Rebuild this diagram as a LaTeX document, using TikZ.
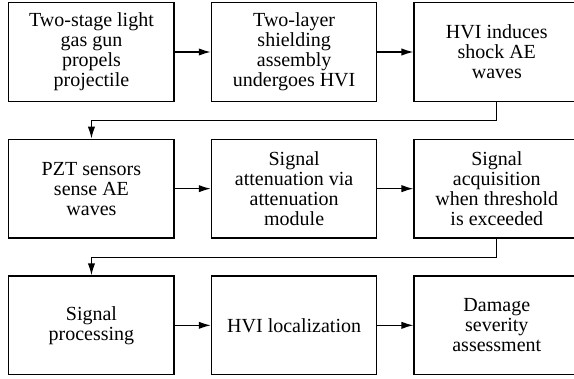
\documentclass[tikz,border=0pt]{standalone}
\usepackage{fontspec}
\setmainfont{Liberation Serif}
\usepackage{tikz}
\usetikzlibrary{positioning, arrows.meta, calc}

\begin{document}
\begin{tikzpicture}[
    stepbox/.style={rectangle, draw, line width=1pt, minimum width=124pt, minimum height=74pt,
                    align=center, inner sep=2pt, font=\fontsize{15}{15}\selectfont},
    arrow/.style={-{Latex[length=9pt, width=5.5pt]}, line width=1pt},
    node distance=27.5pt and 27pt
  ]
  \useasboundingbox (0,0) rectangle (430.5pt,-283.5pt);
  \clip (0,0) rectangle (430.5pt,-283.5pt);
  % row 1
  \node[stepbox] (gun) at (68.6pt,-39pt) {Two-stage light\\gas gun\\propels\\projectile};
  \node[stepbox, right=of gun] (shield) {Two-layer\\shielding\\assembly\\undergoes HVI};
  \node[stepbox, right=of shield] (hvi) {HVI induces\\shock AE\\waves};
  % row 2
  \node[stepbox, below=of gun] (pzt) {PZT sensors\\sense AE\\waves};
  \node[stepbox, right=of pzt] (atten) {Signal\\attenuation via\\attenuation\\module};
  \node[stepbox, right=of atten] (acq) {Signal\\acquisition\\when threshold\\is exceeded};
  % row 3
  \node[stepbox, below=of pzt] (proc) {Signal\\processing};
  \node[stepbox, right=of proc] (loc) {HVI localization};
  \node[stepbox, right=of loc] (dmg) {Damage\\severity\\assessment};

  \draw[arrow] (gun) -- (shield);
  \draw[arrow] (shield) -- (hvi);
  \draw[arrow] (hvi.south) -- ++(0,-14pt) -| (pzt.north);
  \draw[arrow] (pzt) -- (atten);
  \draw[arrow] (atten) -- (acq);
  \draw[arrow] (acq.south) -- ++(0,-14pt) -| (proc.north);
  \draw[arrow] (proc) -- (loc);
  \draw[arrow] (loc) -- (dmg);
\end{tikzpicture}
\end{document}
